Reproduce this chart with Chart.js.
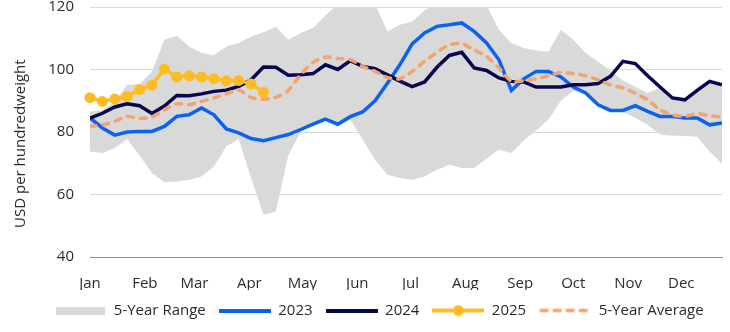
<!DOCTYPE html>
<html>
<head>
<meta charset="utf-8">
<script src="https://cdn.jsdelivr.net/npm/chart.js@4"></script>
<style>
  html, body { margin: 0; padding: 0; background: #fff; }
  #wrap { width: 730px; height: 332px; }
</style>
</head>
<body>
<div id="wrap"><canvas id="chart" width="730" height="332"></canvas></div>
<script>
// weekly prices, USD per hundredweight
const weeks = Array.from({ length: 52 }, (_, i) => i + 1);

const monthLabels = ['Jan', 'Feb', 'Mar', 'Apr', 'May', 'Jun', 'Jul', 'Aug', 'Sep', 'Oct', 'Nov', 'Dec'];
const monthStartDay = [0, 31, 59, 90, 120, 151, 181, 212, 243, 273, 304, 334];

const rangeHigh = [86.6, 87.0, 89.8, 95.1, 95.3, 99.4, 109.5, 110.8, 107.4, 105.3, 104.6, 107.4, 108.5,
  110.6, 111.9, 113.7, 109.5, 111.7, 113.3, 117.3, 121.0, 124.0, 123.0, 121.0, 112.2, 114.3,
  115.4, 119.0, 121.0, 123.0, 123.0, 122.0, 120.5, 112.7, 108.5, 106.9, 106.1, 105.7, 112.7,
  109.5, 105.3, 102.5, 99.6, 96.5, 94.5, 92.5, 94.2, 90.7, 90.1, 93.1, 96.0, 94.9];

const rangeLow = [73.8, 73.3, 74.9, 77.8, 72.5, 66.9, 63.9, 64.2, 64.7, 65.8, 69.0, 75.4, 77.8,
  65.3, 53.5, 54.6, 72.5, 80.0, 82.2, 83.6, 82.0, 84.0, 77.5, 71.1, 66.3, 65.3,
  64.7, 65.8, 67.9, 69.5, 68.5, 68.5, 71.5, 74.3, 73.3, 77.3, 80.5, 84.0, 90.0,
  93.2, 92.2, 88.4, 86.6, 86.4, 84.6, 82.3, 79.1, 78.9, 78.7, 78.5, 73.8, 69.8];

const y2023 = [84.5, 81.3, 79.0, 80.0, 80.2, 80.2, 81.8, 85.0, 85.5, 87.7, 85.5, 81.0, 79.7,
  77.9, 77.2, 78.2, 79.2, 80.8, 82.5, 84.1, 82.5, 84.9, 86.4, 90.0, 95.6, 101.5,
  108.2, 111.7, 113.8, 114.3, 114.9, 112.2, 108.5, 103.1, 93.3, 97.0, 99.4, 99.4, 97.6,
  94.4, 92.5, 88.7, 86.9, 86.9, 88.4, 86.6, 85.0, 85.0, 84.5, 84.5, 82.3, 82.9];

const y2024 = [84.4, 86.0, 88.0, 89.0, 88.4, 85.9, 88.3, 91.7, 91.6, 92.2, 93.0, 93.4, 94.6,
  96.7, 100.8, 100.7, 98.2, 98.3, 98.7, 101.5, 100.0, 102.8, 101.0, 100.3, 98.3, 96.3,
  94.5, 96.0, 100.7, 104.5, 105.5, 100.5, 99.7, 97.3, 96.2, 96.0, 94.4, 94.4, 94.4,
  95.1, 95.1, 95.5, 97.8, 102.6, 101.9, 98.0, 94.4, 90.9, 90.3, 93.3, 96.2, 95.1];

const y2025 = [91.0, 89.8, 90.6, 91.4, 93.6, 95.0, 100.2, 97.6, 98.0, 97.6, 97.1, 96.4, 96.5, 95.4, 92.7];

const avg5 = [81.8, 82.3, 83.4, 85.0, 84.3, 84.8, 87.1, 89.0, 88.7, 89.8, 90.9, 92.2, 93.5,
  91.0, 90.5, 91.1, 93.3, 98.3, 102.3, 104.0, 103.5, 103.2, 101.0, 99.4, 97.4, 97.0,
  99.4, 102.6, 105.5, 107.9, 108.3, 106.3, 104.2, 100.5, 96.2, 96.4, 97.0, 98.0, 99.1,
  98.7, 98.0, 96.7, 95.0, 94.1, 92.4, 90.3, 87.1, 85.5, 85.0, 85.9, 85.2, 84.8];

const yTicks = [40, 60, 80, 100, 120];

const GREY = '#d9d9d9';
const BLUE = '#0a63f0';
const NAVY = '#07074f';
const GOLD = '#fdbd22';
const PEACH = '#f2a36f';

const pts = (vals) => vals.map((v, i) => ({ x: weeks[i], y: v }));

// little canvases used as legend symbols
function legendIcon(w, h, draw) {
  const c = document.createElement('canvas');
  c.width = w; c.height = h;
  draw(c.getContext('2d'), w, h);
  return c;
}
function lineIcon(color) {
  return legendIcon(52, 4, (g, w, h) => { g.fillStyle = color; g.fillRect(0, 0, w, h); });
}
const icons = [
  legendIcon(49, 8, (g, w, h) => { g.fillStyle = GREY; g.fillRect(0, 0, w, h); }),
  lineIcon(BLUE),
  lineIcon(NAVY),
  legendIcon(52, 12, (g, w, h) => {
    g.fillStyle = GOLD;
    g.fillRect(0, h / 2 - 2, w, 4);
    g.beginPath(); g.arc(w / 2, h / 2, 5.5, 0, Math.PI * 2); g.fill();
  }),
  legendIcon(52, 6, (g, w, h) => {
    g.strokeStyle = PEACH; g.lineWidth = 3.5; g.lineCap = 'round';
    g.setLineDash([6, 7]);
    g.beginPath(); g.moveTo(2, h / 2); g.lineTo(w, h / 2); g.stroke();
  })
];

// legend sits a little right of centre in the original
const nudgeLegend = {
  id: 'nudgeLegend',
  afterLayout(chart) {
    chart.legend.left += 18;
    chart.legend.right += 18;
  }
};

Chart.defaults.font.family = "'Open Sans', sans-serif";
Chart.defaults.font.size = 15;
Chart.defaults.color = '#2b2b2b';

new Chart(document.getElementById('chart'), {
  type: 'line',
  data: {
    datasets: [
      {
        label: '5-Year Range',
        data: pts(rangeHigh),
        borderWidth: 0,
        pointRadius: 0,
        backgroundColor: GREY,
        fill: '+1',
        order: 10
      },
      {
        label: 'low',
        data: pts(rangeLow),
        borderWidth: 0,
        pointRadius: 0,
        fill: false,
        order: 11
      },
      {
        label: '2023',
        data: pts(y2023),
        borderColor: BLUE,
        borderWidth: 3.5,
        pointRadius: 0,
        order: 4
      },
      {
        label: '2024',
        data: pts(y2024),
        borderColor: NAVY,
        borderWidth: 3.5,
        pointRadius: 0,
        order: 3
      },
      {
        label: '2025',
        data: pts(y2025),
        borderColor: GOLD,
        backgroundColor: GOLD,
        borderWidth: 3.5,
        pointRadius: 5.5,
        pointBorderWidth: 0,
        clip: false,
        order: 1
      },
      {
        label: '5-Year Average',
        data: pts(avg5),
        borderColor: PEACH,
        borderWidth: 3.5,
        borderDash: [6, 7],
        borderCapStyle: 'round',
        tension: 0.2,
        pointRadius: 0,
        order: 2
      }
    ]
  },
  options: {
    responsive: false,
    animation: false,
    layout: { padding: { left: 0, right: 8, top: 0, bottom: 4 } },
    plugins: {
      tooltip: { enabled: false },
      legend: {
        position: 'bottom',
        labels: {
          usePointStyle: true,
          pointStyleWidth: 52,
          padding: 13,
          font: { size: 15 },
          filter: (item) => item.text !== 'low',
          sort: (a, b) => a.datasetIndex - b.datasetIndex,
          generateLabels(chart) {
            const items = Chart.defaults.plugins.legend.labels.generateLabels(chart);
            const order = [0, -1, 1, 2, 3, 4];
            items.forEach((it) => {
              const k = order[it.datasetIndex];
              if (k >= 0) it.pointStyle = icons[k];
            });
            return items;
          }
        }
      }
    },
    scales: {
      x: {
        type: 'linear',
        min: 1,
        max: 52,
        afterBuildTicks(axis) {
          axis.ticks = monthStartDay.map((d) => ({ value: 1 + d / 7 }));
        },
        afterFit(axis) { axis.height = 33; },
        ticks: {
          autoSkip: false,
          maxRotation: 0,
          padding: 10,
          callback: (v, i) => monthLabels[i]
        },
        grid: { display: false },
        border: { display: true, color: '#8c8c8c', width: 1 }
      },
      y: {
        min: 40,
        max: 120,
        afterBuildTicks(axis) {
          axis.ticks = yTicks.map((v) => ({ value: v }));
        },
        afterFit(axis) {
          axis.width = 90;
          axis.paddingTop = 7;
          axis.paddingBottom = 0;
        },
        ticks: { padding: 16 },
        grid: {
          drawTicks: false,
          color: (ctx) => (ctx.tick && ctx.tick.value === 40 ? '#8c8c8c' : GREY),
          lineWidth: 1
        },
        border: { display: false },
        title: {
          display: true,
          // trailing spaces push the caption a bit below the plot centre, as in the original
          text: 'USD per hundredweight\u00a0\u00a0\u00a0\u00a0\u00a0\u00a0',
          font: { size: 15 },
          padding: { top: 12, bottom: 0 }
        }
      }
    }
  },
  plugins: [nudgeLegend]
});
</script>
</body>
</html>
